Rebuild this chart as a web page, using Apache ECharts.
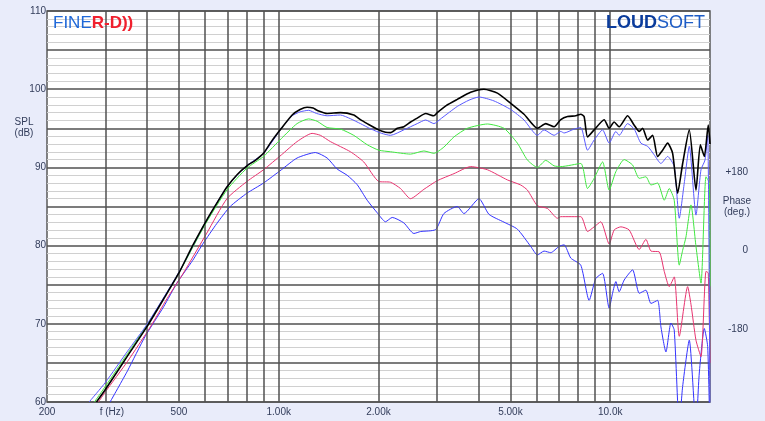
<!DOCTYPE html>
<html><head><meta charset="utf-8">
<script src="https://cdn.jsdelivr.net/npm/echarts@6/dist/echarts.min.js"></script>
<style>html,body{margin:0;padding:0;background:#e9ecfa;} #c{width:765px;height:421px;}</style>
</head><body><div id="c"></div>
<script>
// ---- tick labels ----
const xTickValues = [200, 300, 500, 1000, 2000, 5000, 10000];
const xTickLabels = ['200', 'f (Hz)', '500', '1.00k', '2.00k', '5.00k', '10.0k'];
const xGridValues = [300,400,500,600,700,800,900,1000,2000,3000,4000,5000,6000,7000,8000,9000,10000];
const phaseTickValues = [180, 0, -180];
const phaseTickLabels = ['+180', '0', '-180'];

// ---- series data (frequency Hz / SPL dB) ----
const blackF = [282,300,350,400,450,500,550,607,650,698,750,802,850,900,950,1019,1098,1160,1218,1270,1306,1400,1535,1684,1764,1849,2004,2100,2174,2280,2385,2500,2618,2774,2939,3008,3200,3458,3793,4161,4568,5011,5496,6032,6391,6771,7094,7433,7874,8152,8342,8542,8944,9588,9928,10278,10641,11284,11814,12232,12524,12970,13428,13900,14392,14902,15428,15974,16540,17318,18144,18700,19224,19760,20000];
const blackDb = [60,61.6,65.9,69.6,73.2,76.5,80.0,83.3,85.4,87.5,89.1,90.2,90.9,91.8,93.3,95.0,96.7,97.4,97.7,97.6,97.3,96.9,97.0,96.7,96.1,95.6,94.8,94.5,94.45,95.0,95.2,95.8,96.3,96.9,96.6,97.0,97.9,98.7,99.6,100.0,99.5,98.2,96.8,95.0,95.6,95.2,96.1,96.5,96.6,96.8,96.5,93.9,94.8,96.1,95.0,95.8,95.2,96.6,95.4,94.6,95.0,93.5,94.1,91.4,92.2,93.1,91.8,86.7,90.5,94.8,87.1,92.9,91.4,95.4,93.0];

const blueUpF = [268,300,350,400,500,600,700,800,900,1019,1098,1160,1231,1300,1400,1535,1650,1764,1900,2046,2174,2385,2618,2774,2939,3100,3458,3750,4018,4461,5011,5496,6032,6316,6771,7094,7259,7780,8152,8542,8944,9482,9928,10400,10641,11284,11814,12376,12970,13576,14224,14902,15600,16156,16726,17318,18144,18786,19320,19680,20000];
const blueUpDb = [60,62.5,66.5,69.9,76.6,82.9,87.6,90.2,91.8,95.0,96.6,97.1,97.3,96.9,96.6,96.7,96.2,95.6,94.9,94.35,94.1,94.8,95.6,96.06,95.6,96.3,97.8,98.6,99.0,98.5,97.4,96.06,94.1,94.8,94.1,94.6,94.4,94.9,95.1,92.2,93.5,94.8,93.1,94.6,94.1,95.6,94.9,93.1,92.7,91.6,90.5,91.4,90.1,83.5,88.0,92.7,83.9,89.7,90.95,94.1,58];

const greenF = [278,300,350,400,500,600,700,802,900,1019,1136,1231,1306,1400,1535,1684,1849,2004,2174,2498,2742,2939,3150,3378,3707,4261,4781,5248,5626,6032,6391,6771,7094,8152,8542,8944,9482,9928,10400,11020,11684,12232,12814,13270,13900,14556,15070,15600,16156,16540,16924,17522,18144,18786,19450,19900,20000];
const greenDb = [60,62.0,66.2,69.8,76.5,82.7,87.2,89.9,91.4,93.7,95.6,96.2,95.9,95.1,94.9,94.1,92.9,92.2,92.0,91.7,92.1,91.8,92.6,93.9,95.0,95.55,95.0,93.1,90.95,90.0,90.9,90.2,90.1,90.5,87.3,88.6,90.7,87.1,89.45,91.0,90.3,88.6,88.8,87.75,88.0,85.8,87.3,85.8,77.5,79.4,81.1,85.2,79.9,75.2,88.8,88.0,74.8];

const pinkF = [286,300,350,410,460,516,607,698,802,900,1019,1136,1261,1336,1432,1646,1805,2004,2174,2330,2498,2742,3008,3378,3793,4261,4896,5370,5626,6032,6467,6933,7094,8152,8542,8944,9370,9928,10278,10768,11410,12232,12814,13270,14056,14556,15070,15600,16156,17124,17522,18144,18786,19450,19760,20000];
const pinkDb = [60,61.3,65.2,69.6,73.2,76.5,81.6,86.0,88.2,89.7,91.6,93.3,94.35,94.1,93.3,92.0,90.7,88.2,88.1,87.3,86.0,87.2,88.3,89.2,90.1,89.7,88.4,87.75,87.1,85.1,84.75,83.5,83.7,83.7,81.8,82.4,83.05,80.2,82.0,82.4,82.0,79.5,80.8,79.3,79.2,76.7,74.75,76.0,68.4,74.75,72.5,67.9,65.8,76.7,76.5,65];

const blueLowF = [310,350,395,450,493,550,592,650,714,802,900,1019,1136,1290,1400,1500,1608,1724,1849,1982,2100,2200,2385,2557,2680,2973,3150,3458,3620,4018,4308,4781,5248,5757,6032,6316,6617,7010,7259,7606,8152,8638,9050,9482,9928,10164,10400,10641,11020,11684,12232,12814,13270,13900,14224,14728,15248,15600,16156,16540,17318,18144,18566,19224,19680,20000];
const blueLowDb = [60,64.0,68.35,72.2,75.2,78.1,80.3,82.8,85.0,86.7,88.0,89.7,91.2,91.9,91.2,89.8,89.0,87.8,85.8,84.2,83.05,83.6,82.9,81.55,81.8,82.05,84.1,85.0,84.1,86.0,84.0,83.0,82.1,79.9,78.8,79.3,79.1,79.9,80.1,78.4,77.5,73.0,75.8,76.45,72.0,73.9,75.4,74.1,75.6,76.9,73.9,74.3,72.6,73.0,69.6,66.4,70.1,69.2,57,62,67.9,57,63.7,69.4,67.1,55];

function pairs(f, d) { const n = Math.min(f.length, d.length); const out = []; for (let i = 0; i < n; i++) out.push([f[i], d[i]]); return out; }

const FONT = "'Liberation Sans', Arial, sans-serif";
const LABEL_COLOR = '#323c5a';

function curve(name, f, d, color, width, z) {
  return { name, type: 'line', data: pairs(f, d), symbol: 'none', smooth: 0.2, z,
    lineStyle: { color, width }, silent: true, clip: true };
}

const chart = echarts.init(document.getElementById('c'));
chart.setOption({
  backgroundColor: '#e9ecfa',
  animation: false,
  grid: { left: 47, right: 55, top: 11, bottom: 19, show: true, backgroundColor: '#ffffff', borderColor: '#5a5a5a', borderWidth: 1.5 },
  xAxis: {
    type: 'log', logBase: 10, min: 200, max: 20000,
    axisLine: { show: false }, axisTick: { show: false }, splitLine: { show: false }, minorSplitLine: { show: false },
    axisLabel: {
      customValues: xTickValues, margin: 5, fontSize: 10, color: LABEL_COLOR, fontFamily: FONT,
      formatter: function (v) {
        const i = xTickValues.findIndex(t => Math.abs(t - v) / t < 0.01);
        if (i < 0) return '';
        return i === 1 ? '{f|' + xTickLabels[i] + '}' : xTickLabels[i];
      },
      rich: { f: { fontSize: 10, color: LABEL_COLOR, fontFamily: FONT, padding: [0, 0, 0, 13] } }
    }
  },
  yAxis: [
    {
      type: 'value', min: 60, max: 110, interval: 5,
      axisLine: { show: false }, axisTick: { show: false },
      splitLine: { show: true, lineStyle: { color: '#505050', width: 1.5 } },
      minorTick: { show: false, splitNumber: 5 },
      minorSplitLine: { show: true, lineStyle: { color: '#d0d0d0', width: 1 } },
      axisLabel: { margin: 1, fontSize: 10, color: LABEL_COLOR, fontFamily: FONT,
        formatter: v => (Math.round(v) % 10 === 0 ? String(Math.round(v)) : '') }
    },
    {
      type: 'value', position: 'right', min: -360, max: 540, interval: 180,
      axisLine: { show: false }, axisTick: { show: false }, splitLine: { show: false },
      axisLabel: { align: 'right', verticalAlign: 'top', margin: 38, fontSize: 10, color: LABEL_COLOR, fontFamily: FONT,
        formatter: v => { const i = phaseTickValues.indexOf(Math.round(v)); return i < 0 ? '' : phaseTickLabels[i]; } }
    }
  ],
  graphic: [
    { type: 'text', style: { x: 24, y: 127.5, text: 'SPL\n(dB)', fill: LABEL_COLOR, font: '10px ' + FONT, textAlign: 'center', textVerticalAlign: 'middle', lineHeight: 11 } },
    { type: 'text', style: { x: 737, y: 206.5, text: 'Phase\n(deg.)', fill: LABEL_COLOR, font: '10px ' + FONT, textAlign: 'center', textVerticalAlign: 'middle', lineHeight: 11 } },
    { type: 'text', z: 100, style: { x: 53, y: 23.5, text: '{a|FINE}{b|R-D))}', textAlign: 'left', textVerticalAlign: 'middle',
        rich: { a: { fontSize: 17, fontFamily: FONT, fill: '#1f68d8' }, b: { fontSize: 17, fontFamily: FONT, fill: '#f0202e', fontWeight: 'bold' } } } },
    { type: 'text', z: 100, style: { x: 705, y: 23.5, text: '{a|LOUD}{b|SOFT}', textAlign: 'right', textVerticalAlign: 'middle',
        rich: { a: { fontSize: 18, fontFamily: FONT, fill: '#0b3c9c', fontWeight: 'bold' }, b: { fontSize: 18, fontFamily: FONT, fill: '#1d5cc6' } } } }
  ],
  series: [
    { name: 'grid', type: 'line', data: [], z: 1, silent: true,
      markLine: { silent: true, symbol: ['none', 'none'], label: { show: false },
        lineStyle: { color: '#505050', width: 1.5, type: 'solid' },
        data: xGridValues.map(v => ({ xAxis: v })) } },
    curve('low', blueLowF, blueLowDb, '#3333ff', 1, 3),
    curve('pink', pinkF, pinkDb, '#e8336f', 1, 4),
    curve('green', greenF, greenDb, '#40e840', 1, 5),
    curve('blueUp', blueUpF, blueUpDb, '#5a5aff', 1, 6),
    curve('black', blackF, blackDb, '#000000', 1.6, 7)
  ]
});
</script></body></html>
